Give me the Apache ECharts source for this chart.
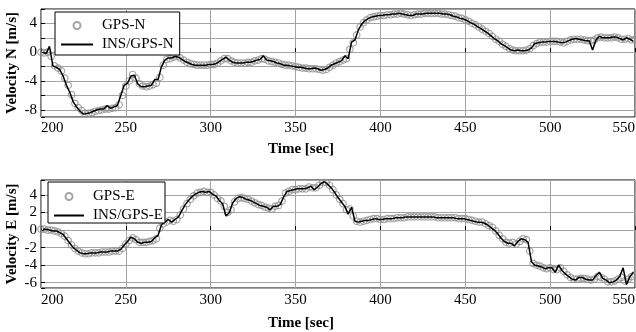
<!DOCTYPE html>
<html>
<head>
<meta charset="utf-8">
<script src="https://cdn.jsdelivr.net/npm/echarts@6.0.0/dist/echarts.min.js"></script>
<style>
  html, body { margin: 0; padding: 0; background: #fff; }
  #chart { width: 636px; height: 332px; }
</style>
</head>
<body>
<div id="chart"></div>
<script>
// GPS fixes every 2 s starting at t = 200 s, INS/GPS solution every 2 s starting at t = 201 s
const gpsStart = 200;
const insStart = 201;
const step = 2;

const timeTicks = [200, 250, 300, 350, 400, 450, 500, 550];
const northLabels = [-8, -4, 0, 4];
const eastLabels = [-6, -4, -2, 0, 2, 4];

const gpsN = [
  0.0, -0.1, 0.0, -0.6, -1.9, -2.2, -2.6, -3.6, -4.6, -5.9,
  -7.1, -7.7, -8.1, -8.5, -8.5, -8.4, -8.2, -8.1, -8.0, -7.9,
  -7.9, -7.8, -7.7, -7.3, -6.0, -4.7, -4.0, -3.1, -3.6, -4.4,
  -4.7, -4.8, -4.7, -4.5, -4.3, -3.5, -1.8, -1.0, -0.9, -0.7,
  -0.6, -0.8, -1.1, -1.4, -1.6, -1.7, -1.8, -1.8, -1.8, -1.8,
  -1.7, -1.7, -1.5, -1.2, -0.9, -0.9, -1.2, -1.4, -1.5, -1.5,
  -1.5, -1.4, -1.4, -1.2, -1.1, -0.9, -1.0, -1.2, -1.3, -1.4,
  -1.5, -1.7, -1.8, -1.8, -1.9, -2.0, -2.1, -2.2, -2.2, -2.3,
  -2.3, -2.3, -2.4, -2.5, -2.4, -2.1, -1.8, -1.5, -1.3, -1.1,
  -0.9, 0.4, 1.3, 2.4, 3.5, 4.1, 4.5, 4.8, 4.9, 5.0,
  5.1, 5.1, 5.2, 5.2, 5.3, 5.3, 5.4, 5.3, 5.2, 5.1,
  5.2, 5.3, 5.3, 5.4, 5.4, 5.4, 5.4, 5.4, 5.3, 5.3,
  5.2, 5.1, 5.0, 4.8, 4.7, 4.5, 4.3, 4.0, 3.8, 3.5,
  3.2, 2.9, 2.6, 2.2, 1.8, 1.5, 1.1, 0.8, 0.5, 0.3,
  0.2, 0.2, 0.2, 0.3, 0.5, 0.9, 1.2, 1.4, 1.4, 1.4,
  1.5, 1.5, 1.5, 1.4, 1.3, 1.5, 1.7, 1.8, 1.8, 1.8,
  1.7, 1.6, 1.6, 1.7, 2.0, 2.1, 2.0, 2.0, 2.0, 2.1,
  2.0, 1.8, 1.8, 1.9, 1.7, 1.8
];

const insN = [
  0.0, -0.2, 0.8, -1.9, -2.1, -2.4, -3.3, -4.6, -5.6, -6.9,
  -7.6, -8.2, -8.6, -8.5, -8.4, -8.2, -8.0, -7.9, -7.9, -7.4,
  -7.8, -7.6, -7.4, -6.0, -4.6, -4.3, -3.3, -3.2, -4.4, -4.8,
  -4.8, -4.7, -4.6, -3.8, -3.8, -2.0, -1.1, -0.8, -0.8, -0.6,
  -0.7, -1.0, -1.3, -1.5, -1.7, -1.8, -1.8, -1.8, -1.8, -1.7,
  -1.7, -1.6, -1.3, -1.0, -0.7, -1.1, -1.4, -1.5, -1.5, -1.5,
  -1.4, -1.4, -1.3, -1.1, -1.0, -0.5, -1.1, -1.2, -1.3, -1.5,
  -1.6, -1.8, -1.8, -1.9, -2.0, -2.1, -2.1, -2.2, -2.3, -2.3,
  -2.2, -2.3, -2.5, -2.4, -2.2, -1.8, -1.6, -1.4, -1.2, -0.5,
  -0.9, 1.4, 1.7, 3.1, 3.9, 4.4, 4.7, 4.9, 5.0, 5.1,
  5.1, 5.2, 5.2, 5.3, 5.3, 5.4, 5.3, 5.2, 5.1, 5.1,
  5.3, 5.3, 5.3, 5.4, 5.4, 5.4, 5.4, 5.4, 5.3, 5.3,
  5.2, 5.0, 4.9, 4.7, 4.6, 4.4, 4.1, 3.9, 3.6, 3.3,
  3.0, 2.7, 2.3, 1.9, 1.6, 1.2, 0.9, 0.6, 0.3, 0.2,
  0.3, 0.2, 0.2, 0.3, 0.6, 1.2, 1.3, 1.4, 1.4, 1.5,
  1.5, 1.5, 1.4, 1.3, 1.4, 1.6, 1.8, 1.9, 1.8, 1.7,
  1.6, 1.6, 0.3, 1.7, 2.2, 2.0, 2.0, 2.0, 2.1, 2.1,
  1.9, 1.7, 2.0, 1.8, 1.5
];

const gpsE = [
  0.1, 0.1, 0.0, 0.0, -0.1, -0.2, -0.4, -0.7, -1.2, -1.7,
  -2.1, -2.4, -2.6, -2.7, -2.7, -2.6, -2.6, -2.6, -2.5, -2.5,
  -2.5, -2.4, -2.4, -2.4, -2.1, -1.6, -1.2, -0.9, -1.1, -1.4,
  -1.4, -1.4, -1.3, -1.2, -1.0, 0.2, 0.7, 0.9, 1.1, 1.0,
  1.2, 1.7, 2.4, 3.0, 3.5, 3.9, 4.2, 4.3, 4.4, 4.3,
  4.3, 4.0, 3.6, 3.3, 2.7, 2.0, 2.3, 3.2, 3.6, 3.7,
  3.6, 3.5, 3.3, 3.1, 2.9, 2.8, 2.6, 2.5, 2.4, 2.7,
  2.8, 3.3, 4.2, 4.4, 4.6, 4.6, 4.7, 4.7, 4.7, 4.9,
  4.8, 4.8, 5.1, 5.4, 5.4, 5.1, 4.6, 4.0, 3.5, 3.0,
  2.3, 2.4, 1.6, 1.0, 0.9, 1.0, 1.1, 1.2, 1.3, 1.3,
  1.2, 1.2, 1.3, 1.3, 1.3, 1.4, 1.4, 1.4, 1.5, 1.5,
  1.5, 1.5, 1.5, 1.5, 1.5, 1.5, 1.5, 1.4, 1.4, 1.4,
  1.4, 1.4, 1.4, 1.3, 1.3, 1.3, 1.2, 1.1, 1.0, 0.9,
  0.9, 0.7, 0.5, 0.3, -0.1, -0.6, -1.0, -1.4, -1.5, -1.4,
  -1.6, -1.3, -1.0, -1.1, -2.4, -3.8, -4.0, -4.1, -4.3, -4.4,
  -4.3, -4.5, -4.5, -4.3, -4.7, -5.1, -5.4, -5.6, -5.6, -5.5,
  -5.5, -5.6, -5.7, -5.6, -5.3, -5.4, -5.6, -5.9, -5.9, -5.8,
  -5.6, -5.4, -5.8, -5.6, -5.3, -5.1
];

const insE = [
  0.1, 0.1, 0.0, -0.1, -0.1, -0.3, -0.5, -1.0, -1.5, -2.0,
  -2.3, -2.6, -2.7, -2.7, -2.6, -2.6, -2.6, -2.5, -2.5, -2.5,
  -2.4, -2.4, -2.4, -2.2, -1.7, -1.3, -0.8, -1.0, -1.4, -1.5,
  -1.4, -1.4, -1.3, -0.9, -0.6, 0.6, 0.9, 1.2, 0.9, 1.2,
  1.5, 2.2, 2.9, 3.4, 3.8, 4.1, 4.3, 4.4, 4.3, 4.4,
  4.1, 3.9, 3.4, 3.0, 1.6, 2.0, 3.1, 3.6, 3.8, 3.7,
  3.5, 3.4, 3.2, 3.0, 2.8, 2.7, 2.6, 2.3, 2.7, 2.7,
  2.9, 3.8, 4.4, 4.5, 4.6, 4.7, 4.7, 4.7, 4.8, 5.0,
  4.6, 4.9, 5.3, 5.5, 5.2, 4.8, 4.3, 3.7, 3.2, 2.7,
  1.8, 2.6, 1.0, 0.9, 1.0, 1.1, 1.1, 1.2, 1.3, 1.2,
  1.2, 1.3, 1.3, 1.3, 1.4, 1.4, 1.4, 1.5, 1.5, 1.5,
  1.5, 1.5, 1.5, 1.5, 1.5, 1.5, 1.4, 1.4, 1.4, 1.4,
  1.4, 1.4, 1.3, 1.3, 1.3, 1.2, 1.1, 1.0, 0.9, 0.9,
  0.8, 0.6, 0.3, 0.0, -0.4, -0.9, -1.3, -1.5, -1.5, -1.8,
  -1.3, -1.0, -1.1, -1.4, -3.6, -4.0, -4.1, -4.2, -4.4, -4.3,
  -4.3, -4.8, -4.0, -4.6, -5.0, -5.3, -5.6, -5.7, -5.4, -5.4,
  -5.6, -5.7, -5.7, -5.2, -4.8, -5.5, -5.7, -6.0, -5.9, -5.7,
  -5.3, -4.3, -6.2, -5.3, -4.8
];

const toPairs = (start, vals) => vals.map((v, i) => [start + step * i, v]);

const font = "Liberation Serif";
const gridColor = "#a3a3a3";

const makeX = (idx, labelMargin, nameGap) => ({
  type: "value",
  gridIndex: idx,
  min: timeTicks[0],
  max: timeTicks[timeTicks.length - 1],
  interval: timeTicks[1] - timeTicks[0],
  name: "Time [sec]",
  nameLocation: "middle",
  nameGap: nameGap,
  nameMoveOverlap: false,
  nameTextStyle: { fontFamily: font, fontSize: 15, fontWeight: "bold", color: "#000", padding: [0, 74, 0, 0] },
  axisLine: { show: false },
  axisTick: { show: true, inside: true, length: 4, lineStyle: { color: "#000" } },
  axisLabel: {
    fontFamily: font, fontSize: 15, color: "#000", margin: labelMargin,
    alignMinLabel: "left", alignMaxLabel: "right",
  },
  splitLine: { show: true, lineStyle: { color: gridColor, width: 1 } },
});

const makeY = (idx, min, max, splitNumber, name, labels) => ({
  type: "value",
  gridIndex: idx,
  min: min,
  max: max,
  splitNumber: splitNumber,
  name: name,
  nameLocation: "middle",
  nameGap: 21,
  nameMoveOverlap: false,
  nameTextStyle: { fontFamily: font, fontSize: 15, fontWeight: "bold", color: "#000" },
  axisLine: { show: false },
  axisTick: { show: true, inside: true, length: 4, lineStyle: { color: "#000" } },
  axisLabel: {
    fontFamily: font, fontSize: 15, color: "#000", margin: 4,
    formatter: (v) => (labels.includes(v) ? String(v) : ""),
  },
  splitLine: { show: true, lineStyle: { color: gridColor, width: 1 } },
});

const legendBox = (idx, left, top, itemWidth, itemGap, padding, names) => ({
  orient: "vertical",
  left: left,
  top: top,
  itemWidth: itemWidth,
  itemHeight: 7,
  itemGap: itemGap,
  padding: padding,
  backgroundColor: "#fff",
  borderColor: "#000",
  borderWidth: 1,
  borderRadius: 0,
  textStyle: { fontFamily: font, fontSize: 15, lineHeight: 14, color: "#000", padding: [0, 0, 0, 4] },
  data: [
    { name: names[0], icon: "circle" },
    { name: names[1], itemStyle: { opacity: 0 } },
  ],
});

const gpsStyle = { color: "transparent", borderColor: "#8f8f8f", borderWidth: 1.2 };
const insStyle = { color: "#000", width: 1.5 };

const chart = echarts.init(document.getElementById("chart"));
chart.setOption({
  animation: false,
  backgroundColor: "#fff",
  grid: [
    { left: 41, right: 1, top: 9, height: 108, outerBoundsMode: "none", show: true, borderColor: "#000", borderWidth: 1, backgroundColor: "transparent" },
    { left: 41, right: 1, top: 180, height: 108, outerBoundsMode: "none", show: true, borderColor: "#000", borderWidth: 1, backgroundColor: "transparent" },
  ],
  xAxis: [makeX(0, 4, 25), makeX(1, 5, 28)],
  yAxis: [
    makeY(0, -9, 6, 7, "Velocity N [m/s]", northLabels),
    makeY(1, -6.6, 5.7, 6, "Velocity E [m/s]", eastLabels),
  ],
  legend: [
    legendBox(0, 55, 12, 32, 4, [6, 6, 3, 5], ["GPS-N", "INS/GPS-N"]),
    legendBox(1, 48, 182, 30, 4, [7, 2, 0, 5], ["GPS-E", "INS/GPS-E"]),
  ],
  series: [
    {
      name: "GPS-N", type: "scatter", xAxisIndex: 0, yAxisIndex: 0,
      symbol: "circle", symbolSize: 6.5, itemStyle: gpsStyle,
      data: toPairs(gpsStart, gpsN),
    },
    {
      name: "INS/GPS-N", type: "line", xAxisIndex: 0, yAxisIndex: 0,
      showSymbol: false, symbol: "none", lineStyle: insStyle, itemStyle: { color: "#000" },
      data: toPairs(insStart, insN),
    },
    {
      name: "GPS-E", type: "scatter", xAxisIndex: 1, yAxisIndex: 1,
      symbol: "circle", symbolSize: 6.5, itemStyle: gpsStyle,
      data: toPairs(gpsStart, gpsE),
    },
    {
      name: "INS/GPS-E", type: "line", xAxisIndex: 1, yAxisIndex: 1,
      showSymbol: false, symbol: "none", lineStyle: insStyle, itemStyle: { color: "#000" },
      data: toPairs(insStart, insE),
    },
  ],
});
</script>
</body>
</html>
